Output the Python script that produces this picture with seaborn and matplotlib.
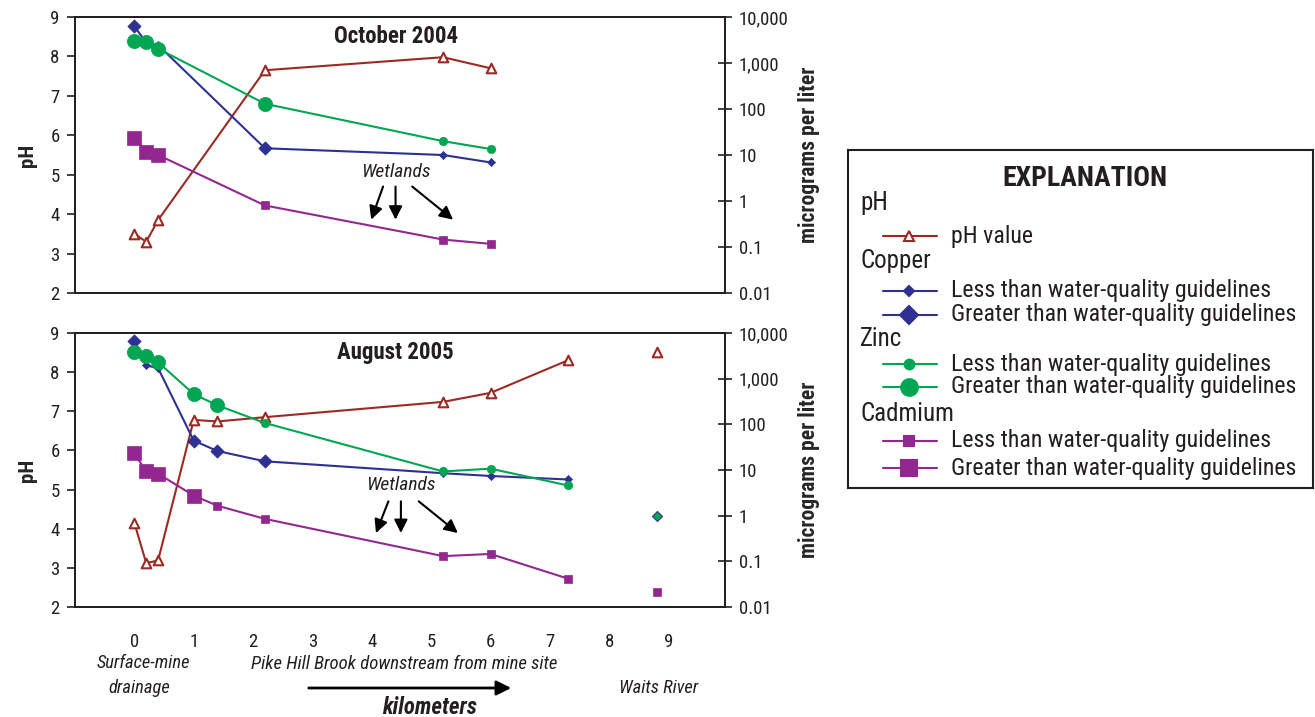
import numpy as np
import pandas as pd
import matplotlib
matplotlib.use("Agg")
import matplotlib.pyplot as plt
from matplotlib.lines import Line2D
from matplotlib.ticker import NullLocator, FixedLocator, FixedFormatter
import seaborn as sns

# Data (distance in km, pH, metals in micrograms per liter)
oct_km = [0, 0.2, 0.4, 2.2, 5.2, 6.0]
oct_ph = [3.5, 3.3, 3.85, 7.65, 7.98, 7.7]
oct_cu = [6300, 2750, 2450, 14, 10, 6.9]
oct_cu_big = [True, False, False, True, False, False]
oct_zn = [3000, 2900, 2050, 130, 20, 13.5]
oct_zn_big = [True, True, True, True, False, False]
oct_cd = [23.7, 11.7, 10, 0.8, 0.145, 0.117]
oct_cd_big = [True, True, True, False, False, False]

aug_km = [0, 0.2, 0.4, 1.0, 1.4, 2.2, 5.2, 6.0, 7.3]
aug_ph = [4.15, 3.12, 3.19, 6.78, 6.74, 6.85, 7.24, 7.47, 8.30]
aug_cu = [6800, 1950, 1700, 44, 26, 15.5, 8.5, 7.4, 6.2]
aug_cu_big = [True, False, False, True, True, True, False, False, False]
aug_zn = [3750, 3100, 2300, 460, 260, 107, 9.3, 10.7, 4.6]
aug_zn_big = [True, True, True, True, True, False, False, False, False]
aug_cd = [23, 9.3, 8.3, 2.75, 1.65, 0.85, 0.13, 0.145, 0.042]
aug_cd_big = [True, True, True, True, False, False, False, False, False]

# Waits River site (not connected)
waits_km = [8.8]
waits_ph = [8.51]
waits_cu = [1.0]
waits_zn = [1.0]
waits_cd = [0.021]

ph_ticks = [2, 3, 4, 5, 6, 7, 8, 9]
conc_ticks = [0.01, 0.1, 1, 10, 100, 1000, 10000]
conc_labels = ["0.01", "0.1", "1", "10", "100", "1,000", "10,000"]
km_ticks = [0, 1, 2, 3, 4, 5, 6, 7, 8, 9]

RED = "#9b2a24"
BLUE = "#2e3192"
GREEN = "#00a651"
PURPLE = "#92278f"
INK = "#231f20"

sns.set_style("white")
plt.rcParams["font.family"] = ["Roboto Condensed", "DejaVu Sans"]
plt.rcParams["font.stretch"] = "condensed"
plt.rcParams["text.color"] = INK
plt.rcParams["axes.edgecolor"] = INK
plt.rcParams["xtick.color"] = INK
plt.rcParams["ytick.color"] = INK

fig = plt.figure(figsize=(13.15, 7.17), dpi=100)
W, H = 1315, 717


def px_axes(l, t, r, b):
    return fig.add_axes([l / W, 1 - b / H, (r - l) / W, (b - t) / H])


ax_top = px_axes(75, 17, 725, 293)
ax_bot = px_axes(75, 333, 725, 607)

# metal marker styles: (marker, small size, big size)
metal_style = {
    "cu": ("D", 17, 46, BLUE),
    "zn": ("o", 36, 105, GREEN),
    "cd": ("s", 36, 95, PURPLE),
}


def draw_panel(ax, km, ph, cu, cu_big, zn, zn_big, cd, cd_big, title, wet, show_xlabels):
    ax2 = ax.twinx()
    # pH on left axis
    sns.lineplot(x=km, y=ph, ax=ax, color=RED, lw=1.5, estimator=None, sort=False, zorder=2)
    sns.scatterplot(x=km, y=ph, ax=ax, marker="^", s=48, facecolor="white",
                    edgecolor=RED, linewidth=1.5, zorder=3)

    for key, vals, big in [("cu", cu, cu_big), ("zn", zn, zn_big), ("cd", cd, cd_big)]:
        mk, s_small, s_big, col = metal_style[key]
        df = pd.DataFrame({"km": km, "val": vals, "big": big})
        sns.lineplot(data=df, x="km", y="val", ax=ax2, color=col, lw=1.5,
                     estimator=None, sort=False, zorder=2)
        sns.scatterplot(data=df[~df["big"]], x="km", y="val", ax=ax2, marker=mk,
                        s=s_small, color=col, edgecolor=col, linewidth=0.5, zorder=3)
        sns.scatterplot(data=df[df["big"]], x="km", y="val", ax=ax2, marker=mk,
                        s=s_big, color=col, edgecolor=col, linewidth=0.5, zorder=3)

    ax.set_xlim(-1, 9.95)
    ax.set_ylim(2, 9)
    ax2.set_yscale("log")
    ax2.set_ylim(0.01, 10000)
    ax2.yaxis.set_major_locator(FixedLocator(conc_ticks))
    ax2.yaxis.set_major_formatter(FixedFormatter(conc_labels))
    ax2.yaxis.set_minor_locator(NullLocator())

    ax.set_yticks(ph_ticks)
    ax.set_xticks(km_ticks)
    if show_xlabels:
        ax.set_xticklabels([str(k) for k in km_ticks])
    else:
        ax.set_xticklabels([])
    ax.tick_params(axis="y", direction="out", length=6, width=1.2, labelsize=13.5, pad=5)
    ax.tick_params(axis="x", direction="out", length=6, width=1.2, labelsize=13.5, pad=13)
    ax2.tick_params(axis="y", direction="inout", length=10, width=1.2, labelsize=13.5, pad=5)

    for a in (ax, ax2):
        for sp in a.spines.values():
            sp.set_linewidth(1.3)
            sp.set_color(INK)
            sp.set_visible(True)

    ax.set_xlabel("")
    ax.set_ylabel("pH", fontsize=15, fontweight="bold")
    ax.yaxis.set_label_coords(-0.058, 0.5)
    ax2.set_ylabel("micrograms per liter", fontsize=15.5, fontweight="bold")
    ax2.yaxis.set_label_coords(1.113, 0.5)

    ax.text(4.4, 8.5, title, fontsize=16.5, fontweight="bold", ha="center", va="center")

    # Wetlands annotation
    tx, ty, starts, ends = wet
    ax.text(tx, ty, "Wetlands", fontsize=14, style="italic", ha="center", va="center")
    for (sx, sy), (ex, ey) in zip(starts, ends):
        ax.annotate("", xy=(ex, ey), xytext=(sx, sy),
                    arrowprops=dict(arrowstyle="-|>", color="black", lw=1.5,
                                    mutation_scale=20, shrinkA=0, shrinkB=0))
    return ax2


ax2_top = draw_panel(ax_top, oct_km, oct_ph, oct_cu, oct_cu_big, oct_zn, oct_zn_big,
                     oct_cd, oct_cd_big, "October 2004",
                     (4.41, 5.08, [(4.19, 4.7), (4.40, 4.7), (4.68, 4.7)],
                      [(3.99, 3.86), (4.40, 3.86), (5.37, 3.86)]), False)

ax2_bot = draw_panel(ax_bot, aug_km, aug_ph, aug_cu, aug_cu_big, aug_zn, aug_zn_big,
                     aug_cd, aug_cd_big, "August 2005",
                     (4.49, 5.11, [(4.28, 4.7), (4.49, 4.7), (4.79, 4.7)],
                      [(4.07, 3.89), (4.49, 3.89), (5.45, 3.89)]), True)

# Waits River point, bottom panel only
sns.scatterplot(x=waits_km, y=waits_ph, ax=ax_bot, marker="^", s=48, facecolor="white",
                edgecolor=RED, linewidth=1.5, zorder=3)
sns.scatterplot(x=waits_km, y=waits_cu, ax=ax2_bot, marker="D", s=30, color=BLUE,
                edgecolor=BLUE, zorder=3)
sns.scatterplot(x=waits_km, y=waits_zn, ax=ax2_bot, marker="D", s=18, color=GREEN,
                edgecolor=GREEN, linewidth=0, zorder=4)
sns.scatterplot(x=waits_km, y=waits_cd, ax=ax2_bot, marker="s", s=36, color=PURPLE,
                edgecolor=PURPLE, zorder=3)

# bottom captions
fig.text(143 / W, 1 - 663 / H, "Surface-mine", fontsize=13.3, style="italic", ha="center", va="center")
fig.text(139 / W, 1 - 688 / H, "drainage", fontsize=13.3, style="italic", ha="center", va="center")
fig.text(404 / W, 1 - 664 / H, "Pike Hill Brook downstream from mine site", fontsize=13.5,
         style="italic", ha="center", va="center")
fig.text(659 / W, 1 - 688 / H, "Waits River", fontsize=13.3, style="italic", ha="center", va="center")
fig.text(430 / W, 1 - 707 / H, "kilometers", fontsize=16.5, style="italic", fontweight="bold",
         ha="center", va="center")
fig.add_artist(matplotlib.patches.FancyArrowPatch(
    (306 / W, 1 - 688 / H), (514 / W, 1 - 688 / H), transform=fig.transFigure,
    arrowstyle="-|>", mutation_scale=22, lw=2.0, color="black"))

# Explanation box
lax = px_axes(848, 150, 1313, 488)
lax.set_xlim(848, 1313)
lax.set_ylim(488, 150)
lax.set_xticks([])
lax.set_yticks([])
for sp in lax.spines.values():
    sp.set_visible(True)
    sp.set_linewidth(1.5)
    sp.set_color(INK)

lax.text(1085, 178, "EXPLANATION", fontsize=20, fontweight="bold", ha="center", va="center")
headings = [("pH", 203), ("Copper", 261), ("Zinc", 339), ("Cadmium", 414)]
for name, y in headings:
    lax.text(860, y, name, fontsize=18, ha="left", va="center")

entries = [
    ("pH value", 236, RED, "^", 7, "white"),
    ("Less than water-quality guidelines", 291, BLUE, "D", 5, BLUE),
    ("Greater than water-quality guidelines", 315, BLUE, "D", 9, BLUE),
    ("Less than water-quality guidelines", 364, GREEN, "o", 7, GREEN),
    ("Greater than water-quality guidelines", 387, GREEN, "o", 12, GREEN),
    ("Less than water-quality guidelines", 441, PURPLE, "s", 7, PURPLE),
    ("Greater than water-quality guidelines", 468, PURPLE, "s", 11, PURPLE),
]
for label, y, col, mk, ms, fc in entries:
    lax.add_line(Line2D([883, 937], [y, y], color=col, lw=1.5, marker=None))
    lax.add_line(Line2D([909], [y], color=col, marker=mk, markersize=ms,
                        markerfacecolor=fc, markeredgecolor=col, markeredgewidth=1.5))
    lax.text(951, y, label, fontsize=17.2, ha="left", va="center")

fig.savefig("out.png", dpi=100)
